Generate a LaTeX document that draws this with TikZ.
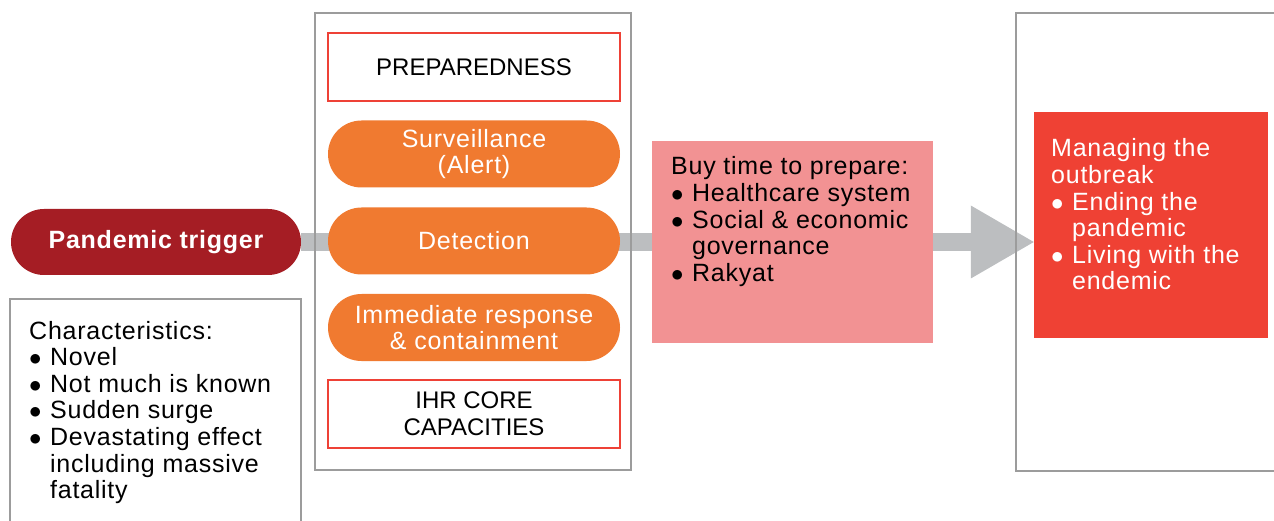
\documentclass[tikz,border=0pt]{standalone}
\usepackage{fontspec}
\setmainfont{Liberation Sans}
% body text is set slightly letter-spaced
\newfontfamily\spaced[LetterSpace=3]{Liberation Sans}
\usetikzlibrary{calc,backgrounds}

\definecolor{framegray}{HTML}{9C9C9C}
\definecolor{arrowgray}{HTML}{BCBEC0}
\definecolor{triggerred}{HTML}{A51D24}
\definecolor{pillorange}{HTML}{F07A30}
\definecolor{edgered}{HTML}{EE4136}
\definecolor{pinkfill}{HTML}{F29293}
\definecolor{outred}{HTML}{EF4134}

% bullet with fixed width, and matching indent for wrapped lines
\newcommand\bul{\makebox[21pt][l]{$\bullet$}}
\newcommand\cont{\hspace*{21pt}}

\begin{document}
\begin{tikzpicture}[x=1pt,y=-1pt,
  txt/.style={font=\spaced\fontsize{25}{26.6}\selectfont},
  captxt/.style={font=\fontsize{24}{26.8}\selectfont},
  frame/.style={draw=framegray, line width=2pt, inner sep=0pt},
  pill/.style={txt, fill=pillorange, text=white, rounded corners=33.5pt,
    minimum width=292pt, minimum height=67pt, inner sep=0pt, align=center},
  capbox/.style={captxt, draw=edgered, line width=2pt, fill=white,
    minimum width=292pt, minimum height=68pt, inner sep=0pt, align=center},
  listtext/.style={txt, anchor=base west, inner sep=0pt},
  bar/.style={draw=arrowgray, line width=18pt}
]
\useasboundingbox (0,0) rectangle (1274,521);
\clip (0,0) rectangle (1274,521);

% trigger and its characteristics
\node[fill=triggerred, text=white, font=\spaced\fontsize{25}{26.6}\selectfont\bfseries,
  rounded corners=33pt, minimum width=290pt, minimum height=66pt, inner sep=0pt]
  (trigger) at (156,242) {Pandemic trigger};
\node[frame, minimum width=291pt, minimum height=250pt] (charbox) at (155.5,424) {};
\node[listtext] (chartext) at (29,339) {\parbox[t]{265pt}{\raggedright
  Characteristics:\\
  \bul Novel\\
  \bul Not much is known\\
  \bul Sudden surge\\
  \bul Devastating effect\\
  \cont including massive\\
  \cont fatality}};

% preparedness column
\node[frame, minimum width=316pt, minimum height=457pt] (column) at (473,241.5) {};
\node[capbox] (prep) at (474,67) {PREPAREDNESS};
\node[pill] (surv) at (474,154) {Surveillance\\(Alert)};
\node[pill] (detect) at (474,241) {Detection};
\node[pill] (respond) at (474,327.5) {Immediate response\\\& containment};
\node[capbox] (ihr) at (474,414) {IHR CORE\\CAPACITIES};

% buying time
\node[fill=pinkfill, minimum width=281pt, minimum height=202pt, inner sep=0pt]
  (buy) at (792.5,242) {};
\node[listtext] (buytext) at (671,175) {\parbox[t]{260pt}{\raggedright
  Buy time to prepare:\\
  \bul Healthcare system\\
  \bul Social \& economic\\
  \cont governance\\
  \bul Rakyat}};

% outcome column
\node[frame, minimum width=280pt, minimum height=458pt] (endcol) at (1156,242) {};
\node[fill=outred, minimum width=234pt, minimum height=226pt, inner sep=0pt]
  (outcome) at (1151,225) {};
\node[listtext, text=white] (outtext) at (1051,157) {\parbox[t]{215pt}{\raggedright
  Managing the\\
  outbreak\\
  \bul Ending the\\
  \cont pandemic\\
  \bul Living with the\\
  \cont endemic}};

% main flow arrow behind everything
\begin{scope}[on background layer]
  \coordinate (tip) at (trigger.east -| outcome.west);
  \coordinate (headbase) at ($(tip)+(-63,0)$);
  \draw[bar] (trigger.east) -- (headbase);
  \fill[arrowgray] ($(headbase)+(0,-36.5)$) -- (tip) -- ($(headbase)+(0,36.5)$) -- cycle;
\end{scope}
\end{tikzpicture}
\end{document}
